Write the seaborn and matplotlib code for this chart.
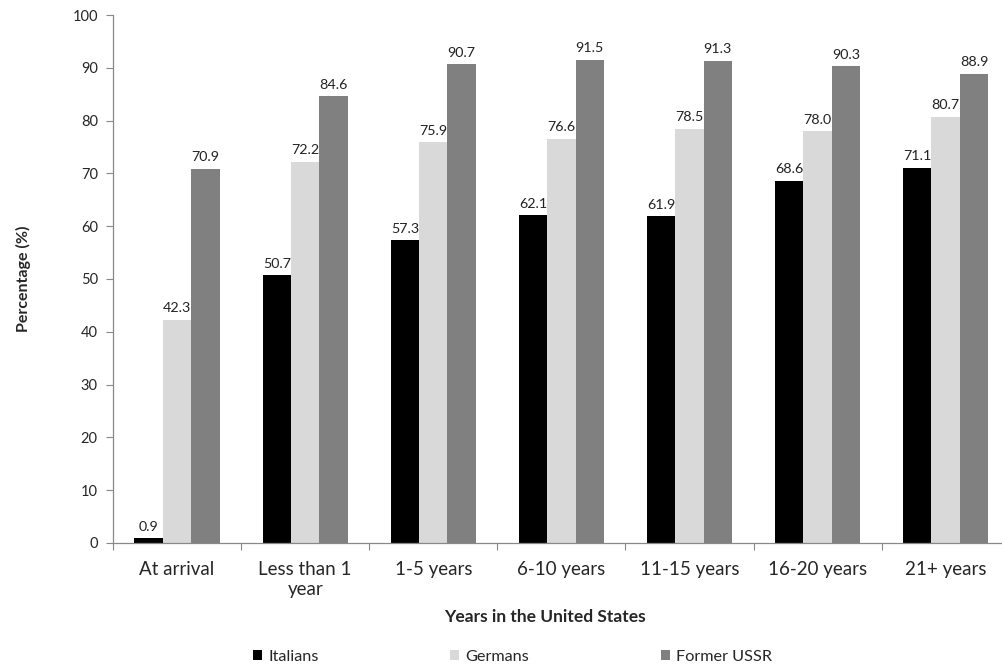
import numpy as np
import pandas as pd
import matplotlib
matplotlib.use("Agg")
import matplotlib.pyplot as plt
import seaborn as sns

# Data
categories = ["At arrival", "Less than 1\nyear", "1-5 years", "6-10 years",
              "11-15 years", "16-20 years", "21+ years"]
groups = ["Italians", "Germans", "Former USSR"]
italians = [0.9, 50.7, 57.3, 62.1, 61.9, 68.6, 71.1]
germans = [42.3, 72.2, 75.9, 76.6, 78.5, 78.0, 80.7]
former_ussr = [70.9, 84.6, 90.7, 91.5, 91.3, 90.3, 88.9]
colors = ["#000000", "#d9d9d9", "#808080"]

df = pd.DataFrame({
    "years": categories * 3,
    "group": [g for g in groups for _ in categories],
    "value": italians + germans + former_ussr,
})

sns.set_style("white")
plt.rcParams["font.family"] = ["Lato", "DejaVu Sans"]

fig = plt.figure(figsize=(10.03, 6.7), dpi=100)
ax = fig.add_axes([0.1127, 0.1896, 0.894, 0.788])

sns.barplot(data=df, x="years", y="value", hue="group", order=categories,
            hue_order=groups, palette=colors, width=0.665, gap=0,
            saturation=1, ax=ax, legend=True, edgecolor="none")

for cont in ax.containers:
    ax.bar_label(cont, fmt="%.1f", padding=4, fontsize=10.3, color="#222222")

ax.set_ylim(0, 100)
ax.set_xlim(-0.5, 6.5)
ax.set_yticks(np.arange(0, 101, 10))
ax.tick_params(axis="y", labelsize=10.5, length=5, width=0.8, color="#888888",
               direction="out", left=True, pad=6)
ax.tick_params(axis="x", which="major", length=0, labelsize=13.5, pad=13)
ax.set_xticks(np.arange(-0.5, 7, 1), minor=True)
ax.tick_params(axis="x", which="minor", length=5, width=0.8, color="#888888",
               direction="out", bottom=True)

for s in ["top", "right"]:
    ax.spines[s].set_visible(False)
for s in ["left", "bottom"]:
    ax.spines[s].set_color("#888888")
    ax.spines[s].set_linewidth(0.9)

ax.set_xlabel("Years in the United States", fontsize=12.5, fontweight="bold")
ax.xaxis.set_label_coords(0.482, -0.125)
ax.set_ylabel("Percentage (%)", fontsize=11.5, fontweight="bold", labelpad=30)

handles, labels = ax.get_legend_handles_labels()
ax.get_legend().remove()
fig.legend(handles, labels, loc="center", bbox_to_anchor=(0.511, 0.02), ncol=3,
           frameon=False, fontsize=11.7, handlelength=0.55, handleheight=0.55,
           handletextpad=0.4, columnspacing=8.1)

fig.savefig("out.png", dpi=100)
